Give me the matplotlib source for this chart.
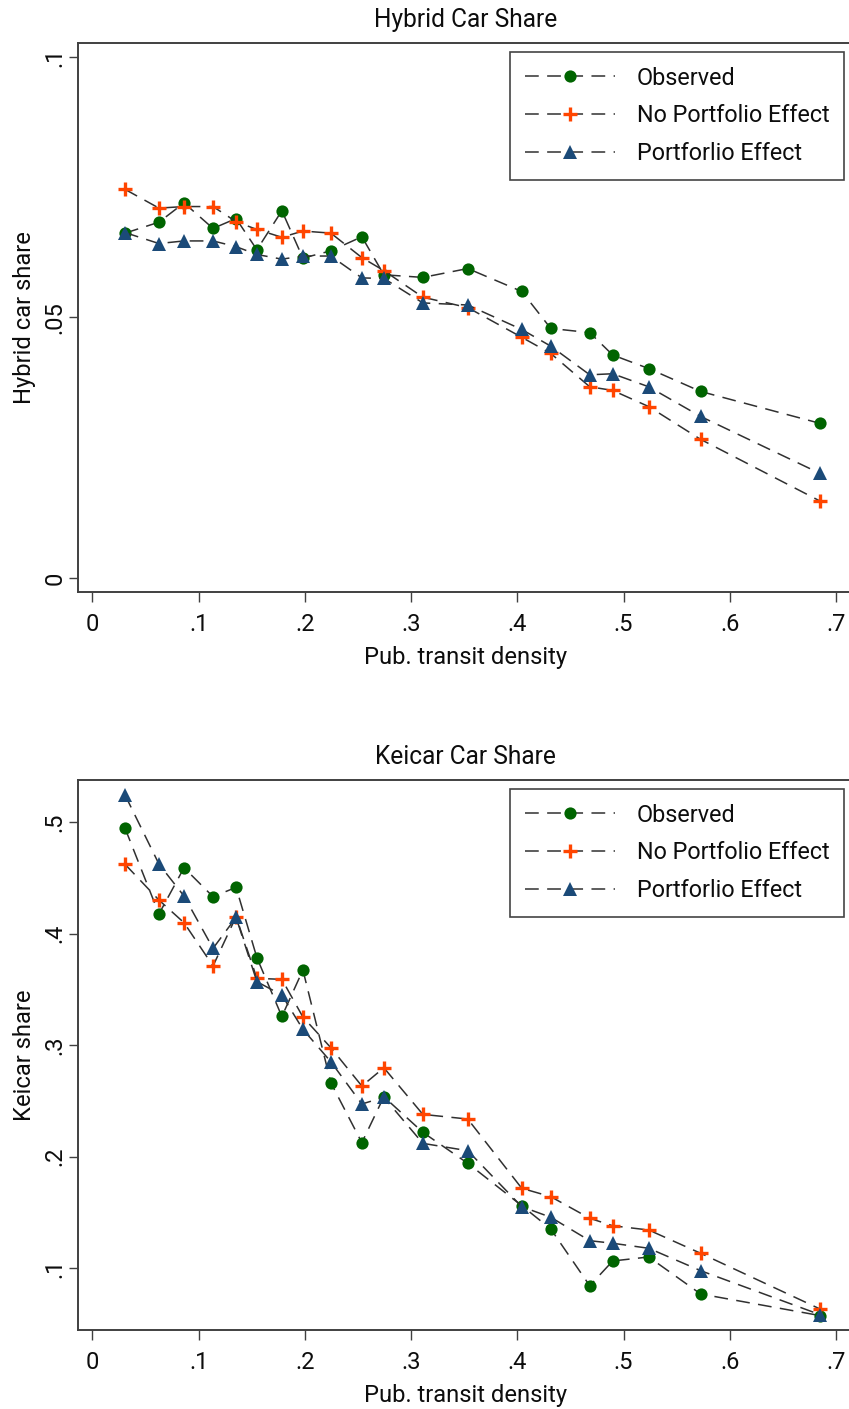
import matplotlib
matplotlib.use("Agg")
import matplotlib.pyplot as plt
from matplotlib import font_manager

# ---------------- data ----------------
transit_density = [0.0308, 0.0627, 0.0863, 0.1136, 0.1353, 0.1549, 0.1784, 0.1982,
                   0.2245, 0.2537, 0.2744, 0.3111, 0.3534, 0.4042, 0.4315, 0.4682,
                   0.4898, 0.5237, 0.5726, 0.6846]

hybrid_observed = [0.0662, 0.0683, 0.0720, 0.0671, 0.0690, 0.0630, 0.0705, 0.0614,
                   0.0628, 0.0655, 0.0582, 0.0577, 0.0594, 0.0550, 0.0479, 0.0471,
                   0.0428, 0.0402, 0.0358, 0.0297]
hybrid_no_portfolio = [0.0746, 0.0710, 0.0713, 0.0713, 0.0684, 0.0669, 0.0654, 0.0666,
                       0.0662, 0.0615, 0.0590, 0.0539, 0.0519, 0.0462, 0.0431, 0.0367,
                       0.0360, 0.0329, 0.0266, 0.0148]
hybrid_portfolio = [0.0663, 0.0642, 0.0647, 0.0647, 0.0636, 0.0621, 0.0612, 0.0618,
                    0.0618, 0.0576, 0.0575, 0.0528, 0.0524, 0.0477, 0.0445, 0.0390,
                    0.0392, 0.0367, 0.0310, 0.0201]

kei_observed = [0.4944, 0.4175, 0.4590, 0.4330, 0.4414, 0.3783, 0.3256, 0.3673,
                0.2662, 0.2124, 0.2536, 0.2217, 0.1939, 0.1559, 0.1350, 0.0841,
                0.1063, 0.1099, 0.0767, 0.0574]
kei_no_portfolio = [0.4621, 0.4300, 0.4097, 0.3709, 0.4151, 0.3598, 0.3589, 0.3251,
                    0.2976, 0.2632, 0.2796, 0.2378, 0.2336, 0.1715, 0.1640, 0.1446,
                    0.1379, 0.1341, 0.1132, 0.0634]
kei_portfolio = [0.5242, 0.4623, 0.4336, 0.3867, 0.4145, 0.3568, 0.3448, 0.3141,
                 0.2850, 0.2471, 0.2531, 0.2118, 0.2052, 0.1550, 0.1455, 0.1245,
                 0.1222, 0.1177, 0.0976, 0.0583]

series_labels = ["Observed", "No Portfolio Effect", "Portforlio Effect"]
x_ticks = [0, 0.1, 0.2, 0.3, 0.4, 0.5, 0.6, 0.7]
x_ticklabels = ["0", ".1", ".2", ".3", ".4", ".5", ".6", ".7"]
hybrid_yticks = [0, 0.05, 0.1]
hybrid_yticklabels = ["0", ".05", ".1"]
kei_yticks = [0.1, 0.2, 0.3, 0.4, 0.5]
kei_yticklabels = [".1", ".2", ".3", ".4", ".5"]

# ---------------- font ----------------
available = {f.name for f in font_manager.fontManager.ttflist}
font = "DejaVu Sans"
for cand in ["Bahnschrift", "Roboto", "Open Sans", "Lato"]:
    if cand in available:
        font = cand
        break
plt.rcParams["font.family"] = [font, "DejaVu Sans"]

# ---------------- styles ----------------
LINE_COLOR = "#303030"
SPINE_COLOR = "#404040"
TEXT_COLOR = "#0d0d0d"
styles = [
    dict(marker="o", color="#006400", ms=8.8, mew=0),
    dict(marker="+", color="#ff4500", ms=10.5, mew=2.4),
    dict(marker="^", color="#1b4a78", ms=10.2, mew=0),
]

W, H = 849, 1409
fig = plt.figure(figsize=(W / 100, H / 100), dpi=100)
fig.patch.set_facecolor("white")
renderer = fig.canvas.get_renderer()


def fitted_size(text, target_px):
    t = fig.text(0, 0, text, fontsize=10)
    w = t.get_window_extent(renderer).width
    t.remove()
    return 10 * target_px / w


TITLE_FS = fitted_size("Hybrid Car Share", 183)
LABEL_FS = fitted_size("Pub. transit density", 204)
LEGEND_FS = fitted_size("No Portfolio Effect", 194)
TICK_FS = LABEL_FS


def make_axes(top_px, bottom_px):
    left_px, right_px = 78, 853
    return fig.add_axes([left_px / W, 1 - bottom_px / H,
                         (right_px - left_px) / W, (bottom_px - top_px) / H])


def draw_panel(ax, ys, title, ylabel, ylim, yticks, yticklabels):
    for y, st in zip(ys, styles):
        ax.plot(transit_density, y, linestyle=(0, (9.0, 5.5)), color=LINE_COLOR,
                linewidth=1.1, marker=st["marker"], markersize=st["ms"],
                markerfacecolor=st["color"], markeredgecolor=st["color"],
                markeredgewidth=st["mew"])
    ax.set_xlim(-0.0135, 0.716)
    ax.set_ylim(*ylim)
    ax.set_xticks(x_ticks)
    ax.set_xticklabels(x_ticklabels)
    ax.set_yticks(yticks)
    ax.set_yticklabels(yticklabels, rotation=90, va="center")
    ax.tick_params(axis="x", length=7, width=1.0, pad=8, labelsize=TICK_FS,
                   color=SPINE_COLOR, labelcolor=TEXT_COLOR)
    ax.tick_params(axis="y", length=6.5, width=1.0, pad=2, labelsize=TICK_FS,
                   color=SPINE_COLOR, labelcolor=TEXT_COLOR)
    for sp in ax.spines.values():
        sp.set_color(SPINE_COLOR)
        sp.set_linewidth(1.4)
    ax.set_title(title, fontsize=TITLE_FS, pad=11.2, color=TEXT_COLOR)
    ax.set_xlabel("Pub. transit density", fontsize=LABEL_FS, labelpad=7,
                  color=TEXT_COLOR)
    ax.set_ylabel(ylabel, fontsize=LABEL_FS, labelpad=5, color=TEXT_COLOR)
    leg = ax.legend(series_labels, loc="upper right",
                    bbox_to_anchor=(0.9884, 0.9836), borderaxespad=0,
                    fontsize=LEGEND_FS, handlelength=3.85, handletextpad=0.94,
                    labelspacing=0.63, borderpad=0.62, numpoints=1,
                    fancybox=False, framealpha=1, edgecolor="#444444")
    leg.get_frame().set_linewidth(1.2)
    for t in leg.get_texts():
        t.set_color(TEXT_COLOR)


ax1 = make_axes(43, 592)
draw_panel(ax1, [hybrid_observed, hybrid_no_portfolio, hybrid_portfolio],
           "Hybrid Car Share", "Hybrid car share", (-0.0027, 0.1027),
           hybrid_yticks, hybrid_yticklabels)

ax2 = make_axes(780, 1330)
draw_panel(ax2, [kei_observed, kei_no_portfolio, kei_portfolio],
           "Keicar Car Share", "Keicar share", (0.0444, 0.5377),
           kei_yticks, kei_yticklabels)

fig.savefig("out.png", dpi=100, facecolor="white")
